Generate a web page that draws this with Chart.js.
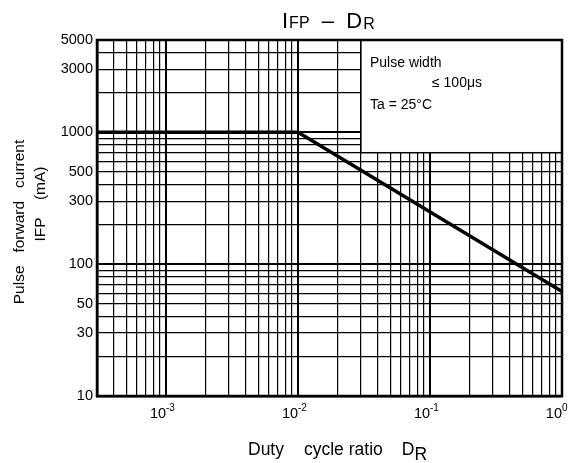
<!DOCTYPE html>
<html>
<head>
<meta charset="utf-8">
<script src="https://cdn.jsdelivr.net/npm/chart.js@4.4.1/dist/chart.umd.min.js"></script>
<style>
html,body{margin:0;padding:0;background:#fff}
#wrap{width:572px;height:463px}
</style>
</head>
<body>
<div id="wrap"><canvas id="myChart"></canvas></div>
<script>
'use strict'
// values
let dutyRatio=[0.0003,0.01,1];
let pulseCurrent=[1000,1000,62];
let yTickLabels=[10,30,50,100,300,500,1000,3000,5000];
let xDecades=[-3,-2,-1,0];
let noteLines=['Pulse width','≤ 100μs','Ta = 25°C'];

let xMin=0.0003, xMax=1, yMin=10, yMax=5000;
let noteBox={x0:0.03,x1:1,y0:700,y1:5000};
let font="'Liberation Sans', Arial, sans-serif";

function isDecade(v){
    let l=Math.log10(v);
    return Math.abs(l-Math.round(l))<1e-6;
}

// 1..9 multiples of every decade between min and max
function logGrid(min,max){
    let ticks=[];
    for(let e=Math.floor(Math.log10(min));e<=Math.ceil(Math.log10(max));e++){
        for(let m=1;m<10;m++){
            let v=Number((m*Math.pow(10,e)).toPrecision(6));
            if(v>=min*0.9999&&v<=max*1.0001) ticks.push({value:v});
        }
    }
    return ticks;
}

function drawParts(ctx,parts,x,y){
    let cx=x;
    for(let p of parts){
        ctx.font=p.size+'px '+font;
        ctx.fillText(p.t,cx,y+(p.dy||0));
        cx+=ctx.measureText(p.t).width+(p.gap||0);
    }
}

let points=[];
for(let i=0;i<dutyRatio.length;i++){
    points.push({x:dutyRatio[i],y:pulseCurrent[i]});
}

let extras={
    id:'extras',
    afterDraw(chart){
        let ctx=chart.ctx;
        let a=chart.chartArea;
        let xs=chart.scales.x, ys=chart.scales.y;
        ctx.save();

        // note box
        let bx0=xs.getPixelForValue(noteBox.x0), bx1=xs.getPixelForValue(noteBox.x1);
        let by0=ys.getPixelForValue(noteBox.y1), by1=ys.getPixelForValue(noteBox.y0);
        ctx.fillStyle='#fff';
        ctx.fillRect(bx0,by0,bx1-bx0,by1-by0);
        ctx.strokeStyle='#000';
        ctx.lineWidth=1.3;
        ctx.strokeRect(bx0,by0,bx1-bx0,by1-by0);
        ctx.fillStyle='#000';
        ctx.textAlign='left';
        ctx.textBaseline='alphabetic';
        ctx.font='14px '+font;
        ctx.fillText(noteLines[0],bx0+9,by0+27);
        ctx.fillText(noteLines[1],bx0+71,by0+47);
        ctx.fillText(noteLines[2],bx0+9,by0+69);

        // plot frame
        ctx.lineWidth=2.5;
        ctx.strokeRect(a.left,a.top,a.right-a.left,a.bottom-a.top);

        // x tick labels 10^n
        for(let d of xDecades){
            let px=xs.getPixelForValue(Math.pow(10,d));
            ctx.font='14.5px '+font;
            let w=ctx.measureText('10').width;
            ctx.fillText('10',px-w,a.bottom+22);
            ctx.font='10px '+font;
            ctx.fillText(d===0?'0':'-'+(-d),px,a.bottom+15);
        }

        // title
        drawParts(ctx,[
            {t:'I',size:22,gap:1},
            {t:'FP',size:16,gap:0},
            {t:'  –  ',size:22},
            {t:'D',size:22,gap:1},
            {t:'R',size:16,dy:1}
        ],282,28);

        // x axis title
        drawParts(ctx,[
            {t:'Duty',size:17.5,gap:20},
            {t:'cycle ratio',size:17.5,gap:19},
            {t:'D',size:17.5},
            {t:'R',size:17.5,dy:5}
        ],248,455);

        // y axis title
        ctx.save();
        ctx.translate(24,222);
        ctx.rotate(-Math.PI/2);
        ctx.textAlign='center';
        ctx.font='15.5px '+font;
        ctx.fillText('Pulse   forward   current',0,0);
        ctx.restore();
        ctx.save();
        ctx.translate(45,204);
        ctx.rotate(-Math.PI/2);
        ctx.textAlign='center';
        ctx.font='15.5px '+font;
        ctx.fillText('IFP    (mA)',0,0);
        ctx.restore();

        ctx.restore();
    }
};

let myChart=new Chart(document.getElementById('myChart'),{
    type:'line',
    data:{
        datasets:[{
            data:points,
            borderColor:'#000',
            borderWidth:3.5,
            pointRadius:0,
            tension:0,
            fill:false
        }]
    },
    options:{
        responsive:true,
        maintainAspectRatio:false,
        animation:false,
        layout:{padding:{top:40,right:10,left:0,bottom:0}},
        plugins:{legend:{display:false},tooltip:{enabled:false},title:{display:false}},
        scales:{
            x:{
                type:'logarithmic',
                min:xMin,
                max:xMax,
                afterBuildTicks(s){s.ticks=logGrid(xMin,xMax);},
                afterFit(s){s.height=67;},
                ticks:{display:false},
                grid:{
                    color:'#000',
                    drawTicks:false,
                    lineWidth:c=>(c.tick&&isDecade(c.tick.value))?2:1.2
                },
                border:{display:true,color:'#000',width:2.5}
            },
            y:{
                type:'logarithmic',
                min:yMin,
                max:yMax,
                afterBuildTicks(s){s.ticks=logGrid(yMin,yMax);},
                afterFit(s){s.width=97;},
                ticks:{
                    autoSkip:false,
                    color:'#000',
                    padding:4,
                    font:{family:font,size:14.5},
                    callback:v=>yTickLabels.includes(Math.round(v))?String(Math.round(v)):''
                },
                grid:{
                    color:'#000',
                    drawTicks:false,
                    lineWidth:c=>(c.tick&&isDecade(c.tick.value))?2:1.2
                },
                border:{display:true,color:'#000',width:2.5}
            }
        }
    },
    plugins:[extras]
});
</script>
</body>
</html>
